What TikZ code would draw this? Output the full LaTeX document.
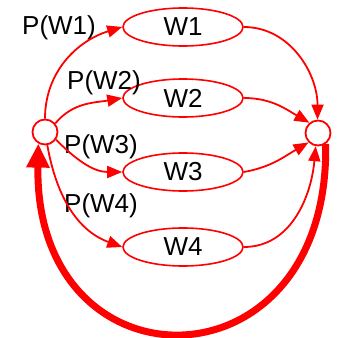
\documentclass[tikz,border=0pt]{standalone}
\usepackage{fontspec}
\setmainfont{Liberation Sans}
\usetikzlibrary{arrows.meta,shapes.geometric}
\begin{document}
\begin{tikzpicture}[x=1pt,y=1pt,
  every node/.style={font=\fontsize{26}{29}\selectfont},
  wnode/.style={ellipse,draw=red,line width=1.6pt,minimum width=120pt,minimum height=38pt,inner sep=0pt},
  cnode/.style={circle,draw=red,line width=1.8pt,minimum size=25pt,inner sep=0pt},
  thinarr/.style={draw=red,line width=1.8pt,-{Triangle[length=15pt,width=12pt]}},
  thickarr/.style={draw=red,line width=7pt,-{Triangle[length=24pt,width=22pt]}},
  lbl/.style={inner sep=0pt}]
\useasboundingbox (0,0) rectangle (338,338);
\node[cnode] (L) at (45,206) {};
\node[cnode] (R) at (318,205) {};
\node[wnode] (W1) at (183,311) {W1};
\node[wnode] (W2) at (183,240) {W2};
\node[wnode] (W3) at (183,166) {W3};
\node[wnode] (W4) at (183,91) {W4};
\node[lbl] (p1) at (59,310) {P(W1)};
\node[lbl] (p2) at (104,255) {P(W2)};
\node[lbl] (p3) at (101,191) {P(W3)};
\node[lbl] (p4) at (101,132) {P(W4)};
\draw[thinarr] (L.90) to[out=90,in=197] (W1.west);
\draw[thinarr] (L.40) to[out=50,in=190] (W2.west);
\draw[thinarr] (L.-35) to[out=-45,in=180] (W3.west);
\draw[thinarr] (L.-80) to[out=-80,in=160] (W4.west);
\draw[thinarr] (W1.east) to[out=0,in=90] (R.92);
\draw[thinarr] (W2.east) to[out=0,in=150] (R.130);
\draw[thinarr] (W3.east) to[out=10,in=210] (R.225);
\draw[thinarr] (W4.east) to[out=0,in=-95] (R.260);
\draw[thickarr] (R.-55) .. controls (330,-57) and (34,-57) .. (L.240);
\end{tikzpicture}
\end{document}
